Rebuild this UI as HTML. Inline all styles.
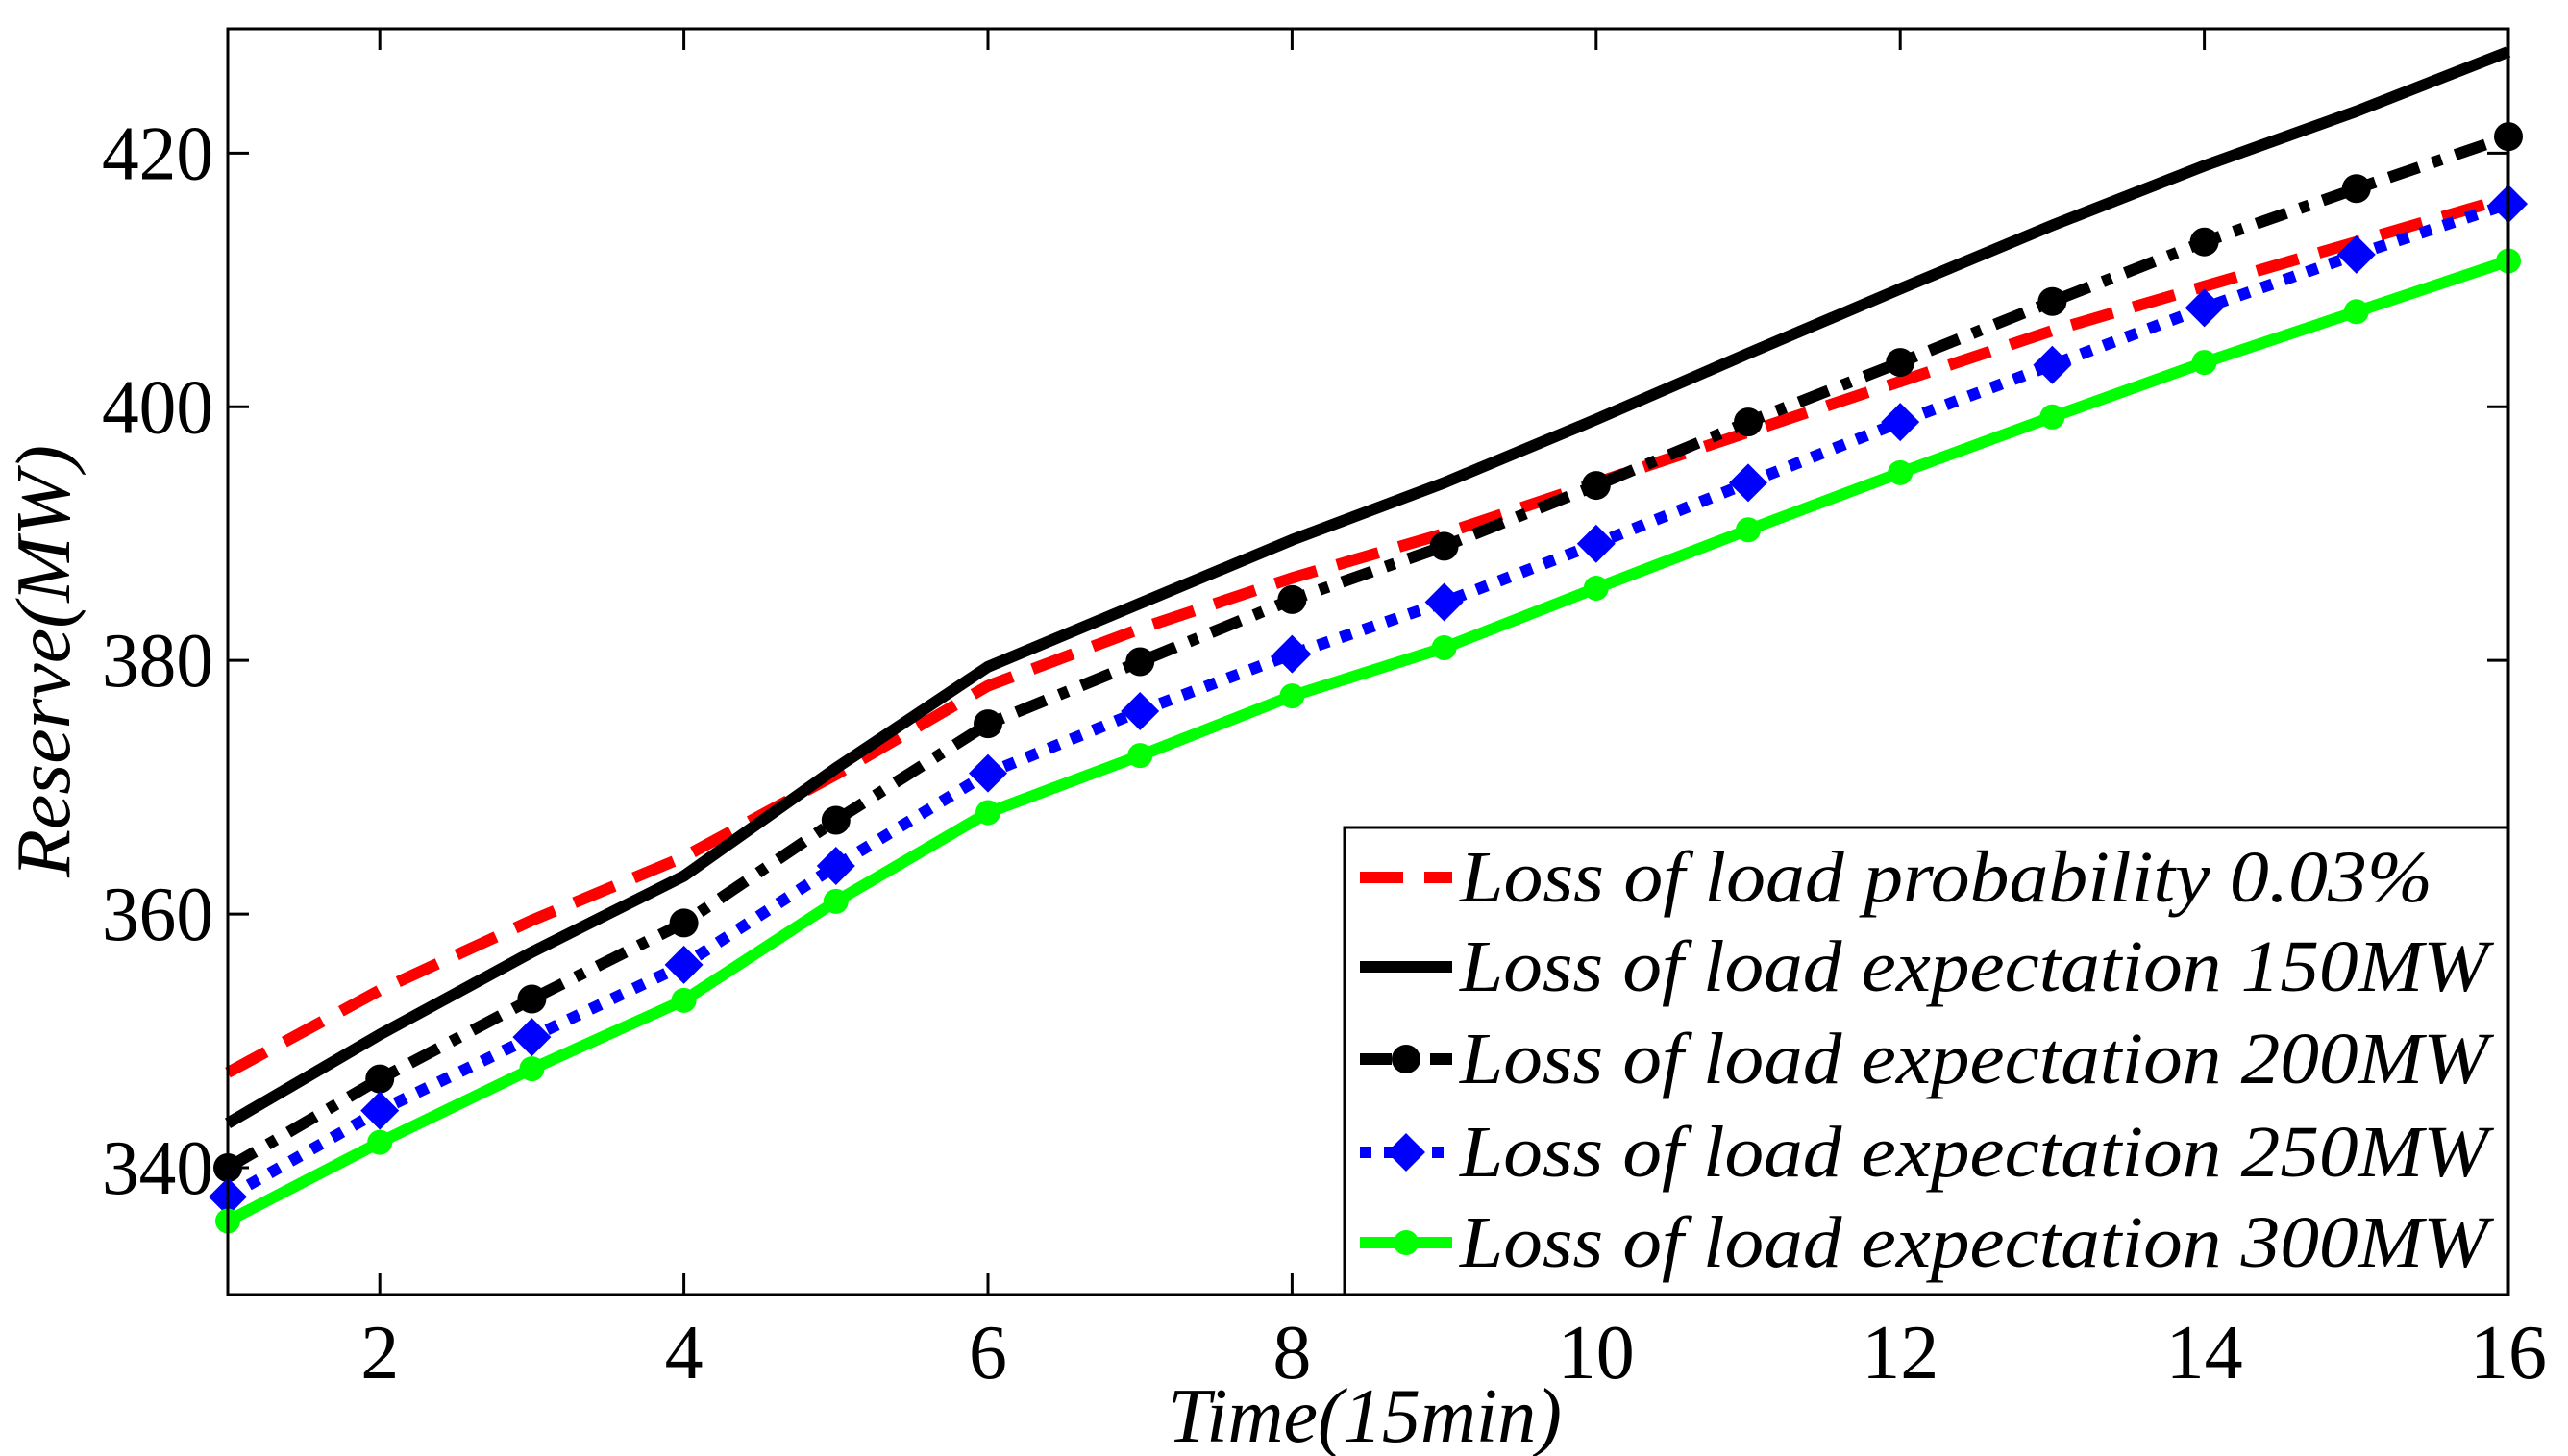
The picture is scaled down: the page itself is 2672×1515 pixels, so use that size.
<!DOCTYPE html>
<html><head><meta charset="utf-8"><style>
html,body{margin:0;padding:0;background:#fff;}
svg{display:block;}
text{font-family:"Liberation Serif",serif;fill:#000;}
</style></head><body>
<svg id="chart" width="2672" height="1515" viewBox="0 0 2672 1515" xmlns="http://www.w3.org/2000/svg">
<rect x="0" y="0" width="2672" height="1515" fill="#fff"/>
<g id="marks"></g>
<g id="axes"></g>
<g id="legend"></g>
</svg>
<script>
const times = [1,2,3,4,5,6,7,8,9,10,11,12,13,14,15,16];
const lolp003 = [347.5,354,359.5,364.5,371,378,382.5,386.5,390,394,398,402,406,409.5,413,416.5];
const lole150 = [343.5,350.5,357,363,371.5,379.5,384.5,389.5,394,399,404.2,409.3,414.3,419,423.3,428];
const lole200 = [340,347,353.3,359.3,367.4,375,379.9,384.8,389,393.8,398.8,403.5,408.3,413,417.2,421.3];
const lole250 = [337.7,344.5,350.3,356,363.8,371.1,376,380.5,384.6,389.2,394,398.8,403.3,407.8,412,416];
const lole300 = [335.8,342,347.8,353.2,361,368,372.5,377.2,381,385.7,390.3,394.8,399.2,403.5,407.5,411.5];
const xTicks = [2,4,6,8,10,12,14,16];
const yTicks = [340,360,380,400,420];
const legendLabels = ["Loss of load probability 0.03%","Loss of load expectation 150MW","Loss of load expectation 200MW","Loss of load expectation 250MW","Loss of load expectation 300MW"];

const NS="http://www.w3.org/2000/svg";
const L=237,R=2610,T=30,B=1347;
const xMin=1,xMax=16,yMin=330,yMax=429.8;
function xs(v){return L+(v-xMin)/(xMax-xMin)*(R-L);}
function ys(v){return B-(v-yMin)/(yMax-yMin)*(B-T);}
function mk(tag,attrs,parent){const e=document.createElementNS(NS,tag);for(const k in attrs)e.setAttribute(k,attrs[k]);parent.appendChild(e);return e;}

const marks=document.getElementById('marks');
const axes=document.getElementById('axes');
const legend=document.getElementById('legend');

const series=[
 {vals:lolp003,color:'#ff0000',dash:'45 22',marker:null,name:'series-lolp-0.03'},
 {vals:lole150,color:'#000000',dash:null,marker:null,name:'series-lole-150mw'},
 {vals:lole200,color:'#000000',dash:'33 15 10 15',marker:'circle',name:'series-lole-200mw'},
 {vals:lole250,color:'#0000ff',dash:'12 13',marker:'diamond',name:'series-lole-250mw'},
 {vals:lole300,color:'#00ff00',dash:null,marker:'gcircle',name:'series-lole-300mw'}
];
function drawMarker(type,cx,cy,color,parent){
  let m;
  if(type==='circle'){m=mk('circle',{cx:cx,cy:cy,r:15,fill:color},parent);}
  else if(type==='diamond'){m=mk('polygon',{points:`${cx},${cy-20} ${cx+20},${cy} ${cx},${cy+20} ${cx-20},${cy}`,fill:color},parent);}
  else if(type==='gcircle'){m=mk('circle',{cx:cx,cy:cy,r:13,fill:color},parent);}
  return m;
}
series.forEach(s=>{
  const g=mk('g',{},marks);
  
  
  const pts=times.map((t,i)=>xs(t).toFixed(1)+','+ys(s.vals[i]).toFixed(1)).join(' ');
  const a={points:pts,fill:'none',stroke:s.color,'stroke-width':12,'stroke-linejoin':'round'};
  if(s.dash)a['stroke-dasharray']=s.dash;
  const pl=mk('polyline',a,g);
  
  
  if(s.marker){
    times.forEach((t,i)=>{
      const m=drawMarker(s.marker,xs(t),ys(s.vals[i]),s.color,g);
      
      
    });
  }
});

const box=mk('rect',{x:L,y:T,width:R-L,height:B-T,fill:'none',stroke:'#000','stroke-width':3},axes);


xTicks.forEach(v=>{
  const x=xs(v);
  mk('line',{x1:x,y1:B,x2:x,y2:B-22,stroke:'#000','stroke-width':3},axes);
  mk('line',{x1:x,y1:T,x2:x,y2:T+22,stroke:'#000','stroke-width':3},axes);
  const t=mk('text',{x:x,y:1434,'font-size':80,'text-anchor':'middle'},axes);
  t.textContent=v;
  
  
});
yTicks.forEach(v=>{
  const y=ys(v);
  mk('line',{x1:L,y1:y,x2:L+22,y2:y,stroke:'#000','stroke-width':3},axes);
  mk('line',{x1:R,y1:y,x2:R-22,y2:y,stroke:'#000','stroke-width':3},axes);
  const t=mk('text',{x:222,y:y+27,'font-size':80,'text-anchor':'end',textLength:116,lengthAdjust:'spacingAndGlyphs'},axes);
  t.textContent=v;
  
  
});
const xt=mk('text',{x:1215,y:1500,'font-size':80,'font-style':'italic',textLength:410,lengthAdjust:'spacingAndGlyphs'},axes);
xt.textContent='Time(15min)';


const yt=mk('text',{x:0,y:0,'font-size':80,'font-style':'italic','text-anchor':'middle',textLength:450,lengthAdjust:'spacingAndGlyphs',transform:'translate(72,688) rotate(-90)'},axes);
yt.textContent='Reserve(MW)';



const lb=mk('rect',{x:1399,y:861,width:R-1399,height:B-861,fill:'#fff',stroke:'#000','stroke-width':3},legend);


const rowsY=[913,1006,1102,1199,1293];
series.forEach((s,i)=>{
  const g=mk('g',{},legend);
  
  
  const y=rowsY[i];
  const a={x1:1415,y1:y,x2:1511,y2:y,stroke:s.color,'stroke-width':12};
  if(s.dash)a['stroke-dasharray']=s.dash;
  mk('line',a,g);
  if(s.marker)drawMarker(s.marker,1463,y,s.color,g);
  const t=mk('text',{x:1519,y:y+25,'font-size':76,'font-style':'italic',textLength:(i===0?1012:1070),lengthAdjust:'spacingAndGlyphs'},g);
  t.textContent=legendLabels[i];
  
  
});
</script>
</body></html>
